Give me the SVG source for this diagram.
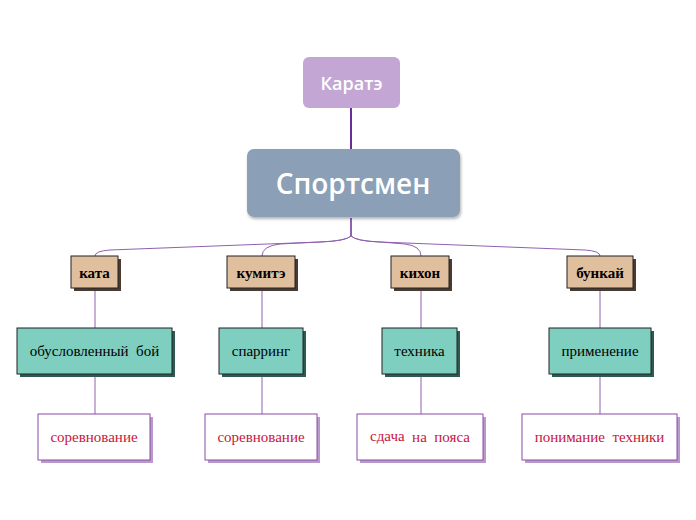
<svg xmlns="http://www.w3.org/2000/svg" width="696" height="520" viewBox="0 0 696 520">
<defs>
<filter id="sh" x="-10%" y="-10%" width="130%" height="140%">
<feDropShadow dx="1" dy="2" stdDeviation="1.5" flood-color="#000" flood-opacity="0.3"/>
</filter>
</defs>
<style>
.sans{font-family:"Open Sans","Noto Sans",sans-serif;fill:#fff;text-anchor:middle;font-weight:600}
.l1 rect.s{fill:#4a3a30}
.l1 rect.b{fill:#e0bf9f;stroke:#222;stroke-width:1}
.l1 text{font-family:"Liberation Serif",serif;font-weight:bold;font-size:15px;fill:#000;text-anchor:middle}
.l2 rect.s{fill:#2f5a52}
.l2 rect.b{fill:#7fcfc0;stroke:#222;stroke-width:1}
.l2 text{font-family:"Liberation Serif",serif;font-size:15px;fill:#000;text-anchor:middle;white-space:pre}
.l3 rect.s{fill:#b89ac8}
.l3 rect.b{fill:#fff;stroke:#8a4aa8;stroke-width:1}
.l3 text{font-family:"Liberation Serif",serif;font-size:15px;fill:#c8143c;text-anchor:middle;white-space:pre}
.c{fill:none;stroke:#9060b0;stroke-width:1}
</style>
<g id="connectors">
<line x1="351" y1="108" x2="351" y2="149" stroke="#6a2d9a" stroke-width="2"/>
<line x1="351" y1="218" x2="351" y2="236" stroke="#6a2d9a" stroke-width="1.5"/>
<path class="c" d="M351,236 Q346,241 320,242 L110,250 Q95,251 95,256"/>
<path class="c" d="M351,236 Q346,241 320,242 L280,244 Q262,246 262,256"/>
<path class="c" d="M351,236 Q356,241 380,242 L405,244 Q421,246 421,256"/>
<path class="c" d="M351,236 Q356,241 380,242 L585,250 Q600,251 600,256"/>
<line class="c" x1="95" y1="288" x2="95" y2="328"/>
<line class="c" x1="262" y1="288" x2="262" y2="328"/>
<line class="c" x1="421" y1="288" x2="421" y2="328"/>
<line class="c" x1="600" y1="288" x2="600" y2="328"/>
<line class="c" x1="95" y1="374" x2="95" y2="414"/>
<line class="c" x1="262" y1="374" x2="262" y2="414"/>
<line class="c" x1="421" y1="374" x2="421" y2="414"/>
<line class="c" x1="600" y1="374" x2="600" y2="414"/>
</g>
<g id="karate">
<rect x="303" y="57" width="97" height="51" rx="6" fill="#c3a6d3"/>
<text class="sans" x="351.5" y="90" font-size="18">Каратэ</text>
</g>
<g id="sportsmen">
<rect x="247" y="149" width="213" height="68" rx="7" fill="#8b9fb6" filter="url(#sh)"/>
<text class="sans" x="353" y="194" font-size="28">Спортсмен</text>
</g>
<g id="kata" class="l1">
<rect class="s" x="74" y="259" width="47" height="32"/>
<rect class="b" x="71" y="256" width="47" height="32"/>
<text x="94.5" y="277.5">ката</text>
</g>
<g id="kumite" class="l1">
<rect class="s" x="230" y="259" width="68" height="32"/>
<rect class="b" x="227" y="256" width="68" height="32"/>
<text x="261" y="277.5">кумитэ</text>
</g>
<g id="kihon" class="l1">
<rect class="s" x="394" y="259" width="58" height="32"/>
<rect class="b" x="391" y="256" width="58" height="32"/>
<text x="420" y="277.5">кихон</text>
</g>
<g id="bunkai" class="l1">
<rect class="s" x="570" y="259" width="66" height="32"/>
<rect class="b" x="567" y="256" width="66" height="32"/>
<text x="600" y="277.5">бункай</text>
</g>
<g id="obusl" class="l2">
<rect class="s" x="20" y="331" width="155" height="46"/>
<rect class="b" x="17" y="328" width="155" height="46"/>
<text x="94.5" y="356">обусловленный  бой</text>
</g>
<g id="sparring" class="l2">
<rect class="s" x="222" y="331" width="84" height="46"/>
<rect class="b" x="219" y="328" width="84" height="46"/>
<text x="261" y="356">спарринг</text>
</g>
<g id="tehnika" class="l2">
<rect class="s" x="385" y="331" width="75" height="46"/>
<rect class="b" x="382" y="328" width="75" height="46"/>
<text x="419.5" y="356">техника</text>
</g>
<g id="primenenie" class="l2">
<rect class="s" x="552" y="331" width="102" height="46"/>
<rect class="b" x="549" y="328" width="102" height="46"/>
<text x="600" y="356">применение</text>
</g>
<g id="sorevn1" class="l3">
<rect class="s" x="41" y="417" width="112" height="46"/>
<rect class="b" x="38" y="414" width="112" height="46"/>
<text x="94" y="442">соревнование</text>
</g>
<g id="sorevn2" class="l3">
<rect class="s" x="208" y="417" width="112" height="46"/>
<rect class="b" x="205" y="414" width="112" height="46"/>
<text x="261" y="442">соревнование</text>
</g>
<g id="sdacha" class="l3">
<rect class="s" x="360" y="417" width="126" height="46"/>
<rect class="b" x="357" y="414" width="126" height="46"/>
<text x="420" y="442"><tspan dy="-1">сдача</tspan><tspan dy="1">  на  пояса</tspan></text>
</g>
<g id="ponimanie" class="l3">
<rect class="s" x="525" y="417" width="155" height="46"/>
<rect class="b" x="522" y="414" width="155" height="46"/>
<text x="599.5" y="442">понимание  техники</text>
</g>
</svg>
